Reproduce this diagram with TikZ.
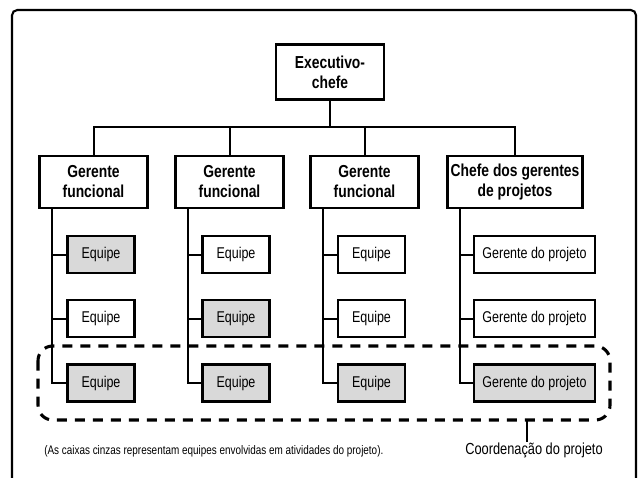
\documentclass[tikz,border=0pt]{standalone}
\usepackage{fontspec}
\setmainfont{Liberation Sans}[FakeStretch=0.8]
\definecolor{boxgray}{HTML}{D9D9D9}
\begin{document}
\begin{tikzpicture}[x=0.75pt,y=-0.75pt,
  box/.style={draw, line width=1.8pt, fill=white, align=center, inner sep=0pt},
  headbox/.style={box, minimum width=81pt, minimum height=39pt, font=\fontsize{13}{15}\selectfont\bfseries},
  teambox/.style={box, minimum width=50pt, minimum height=27.5pt, font=\fontsize{11.7}{13}\selectfont},
  gpbox/.style={teambox, minimum width=91pt},
  graybox/.style={fill=boxgray},
  link/.style={line width=1.5pt},
  coordline/.style={line width=2.3pt, dash pattern=on 7.5pt off 6pt, rounded corners=11pt}]
\useasboundingbox (0,0) rectangle (640,478);
\clip (0,0) rectangle (640,478);
% outer frame
\draw[line width=1.6pt, rounded corners=4pt] (12,10) rectangle (636,500);
% top
\node[headbox, minimum height=41pt] (ex) at (330,72) {Executivo-\\chefe};
\node[headbox] (g1) at (93.5,182) {Gerente\\funcional};
\node[headbox] (g2) at (229.5,182) {Gerente\\funcional};
\node[headbox] (g3) at (364.5,182) {Gerente\\funcional};
\node[headbox, minimum width=101pt] (g4) at (515,182) {Chefe dos gerentes\\de projetos};
\coordinate (bus) at (330,127);
\draw[link] (ex.south) -- (bus);
\draw[link] (g1.north) |- (bus);
\draw[link] (g2.north) |- (bus);
\draw[link] (g3.north) |- (bus);
\draw[link] (g4.north) |- (bus);
% dashed coordination area
\draw[coordline] (38,346) rectangle (610,420);
\coordinate (cl) at (527,420);
% teams
\node[teambox, graybox] (t11) at (101,254.5) {Equipe};
\node[teambox] (t12) at (101,318.5) {Equipe};
\node[teambox, graybox] (t13) at (101,383) {Equipe};
\node[teambox] (t21) at (236,254.5) {Equipe};
\node[teambox, graybox] (t22) at (236,318.5) {Equipe};
\node[teambox, graybox] (t23) at (236,383) {Equipe};
\node[teambox] (t31) at (371.5,254.5) {Equipe};
\node[teambox] (t32) at (371.5,318.5) {Equipe};
\node[teambox, graybox] (t33) at (371.5,383) {Equipe};
\node[gpbox] (t41) at (534.5,254.5) {Gerente do projeto};
\node[gpbox] (t42) at (534.5,318.5) {Gerente do projeto};
\node[gpbox, graybox] (t43) at (534.5,383) {Gerente do projeto};
\foreach \g/\t in {g1/t1, g2/t2, g3/t3, g4/t4}{
  \foreach \r in {1,2,3}{
    \draw[link] ([xshift=10.5pt]\g.south west) |- (\t\r.west);
  }
}
% labels
\node[font=\fontsize{12}{14}\selectfont, inner sep=0pt] (lab) at (534,450) {Coordenação do projeto};
\draw[link] (cl) -- (cl |- lab.north);
\node[font=\fontsize{9.3}{11}\selectfont, inner sep=0pt, anchor=west] (note) at (44,451) {(As caixas cinzas representam equipes envolvidas em atividades do projeto).};
\end{tikzpicture}
\end{document}
